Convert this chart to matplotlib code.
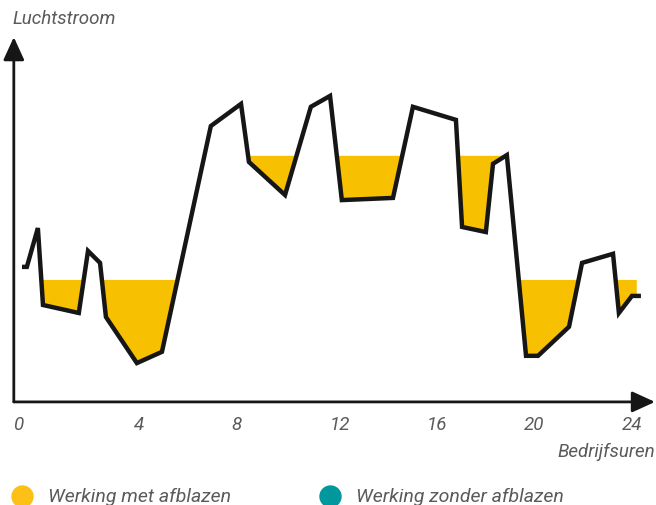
import matplotlib.pyplot as plt
import numpy as np

# Luchtstroom over de bedrijfsuren (uren, relatieve luchtstroom 0-100)
hours = [0.16, 0.35, 0.78, 0.98, 2.38, 2.74, 3.21, 3.44, 4.65, 5.63, 7.54, 8.72,
         9.03, 10.44, 11.45, 12.20, 12.66, 14.66, 15.44, 17.12, 17.36, 18.29,
         18.57, 19.11, 19.86, 20.33, 21.54, 22.05, 23.26, 23.49, 24.00, 24.35]
flow = [37.2, 37.2, 47.9, 26.7, 24.5, 41.6, 38.3, 23.4, 10.7, 13.8, 76.0, 82.1,
        66.1, 57.0, 81.3, 84.3, 55.6, 56.2, 81.3, 77.7, 48.2, 46.8,
        65.6, 68.0, 12.7, 12.7, 20.7, 38.3, 40.8, 24.5, 29.2, 29.2]

# ondergrens bij afblazen: (van uur, tot uur, niveau)
setpoints = [(0.0, 8.0, 33.6), (8.0, 19.1, 67.8), (19.1, 24.19, 33.6)]

tick_labels = ['0', '4', '8', '12', '16', '20', '24']
tick_pos = [0.0, 4.73, 8.56, 12.59, 16.38, 20.17, 24.0]

legend_labels = ['Werking met afblazen', 'Werking zonder afblazen']
legend_colors = ['#FCC016', '#00979D']

fill_color = '#F7C000'
line_color = '#161616'
text_color = '#5a5a5a'

fig = plt.figure(figsize=(6.56, 5.06), dpi=100)
ax = fig.add_axes([0, 0, 1, 1])
ax.set_xlim(-0.70, 24.94)
ax.set_ylim(-28.4, 111.0)
ax.axis('off')

font = dict(family='Roboto', style='italic', weight='normal', color=text_color)

# gevulde delen (afblazen)
xs = np.linspace(hours[0], hours[-1], 6000)
ys = np.interp(xs, hours, flow)
for start, end, level in setpoints:
    mask = (xs >= start) & (xs <= end) & (ys < level)
    ax.fill_between(xs, level, ys, where=mask, color=fill_color, lw=0, zorder=1)

ax.plot(hours, flow, color=line_color, lw=3.2, solid_joinstyle='miter',
        solid_capstyle='butt', zorder=3)

# assen met pijlen
arrow = dict(arrowstyle='-|>,head_length=0.7,head_width=0.32', lw=2.0,
             color=line_color, mutation_scale=20, shrinkA=0, shrinkB=0)
ax.annotate('', xy=(24.90, 0), xytext=(-0.16, 0), arrowprops=arrow)
ax.annotate('', xy=(-0.16, 100.5), xytext=(-0.16, 0), arrowprops=arrow)

for pos, lab in zip(tick_pos, tick_labels):
    ax.text(pos, -6.1, lab, ha='center', va='center', fontsize=13.5, **font)

ax.text(-0.20, 105.8, 'Luchtstroom', ha='left', va='center', fontsize=13.5, **font)
ax.text(24.90, -13.5, 'Bedrijfsuren', ha='right', va='center', fontsize=13.5, **font)

legend_x = [0.16, 12.20]
for lx, lab, col in zip(legend_x, legend_labels, legend_colors):
    ax.scatter([lx], [-25.9], s=260, color=col, lw=0, clip_on=False)
    ax.text(lx + 1.0, -25.9, lab, ha='left', va='center', fontsize=14, **font)

fig.savefig('out.png', dpi=100)
